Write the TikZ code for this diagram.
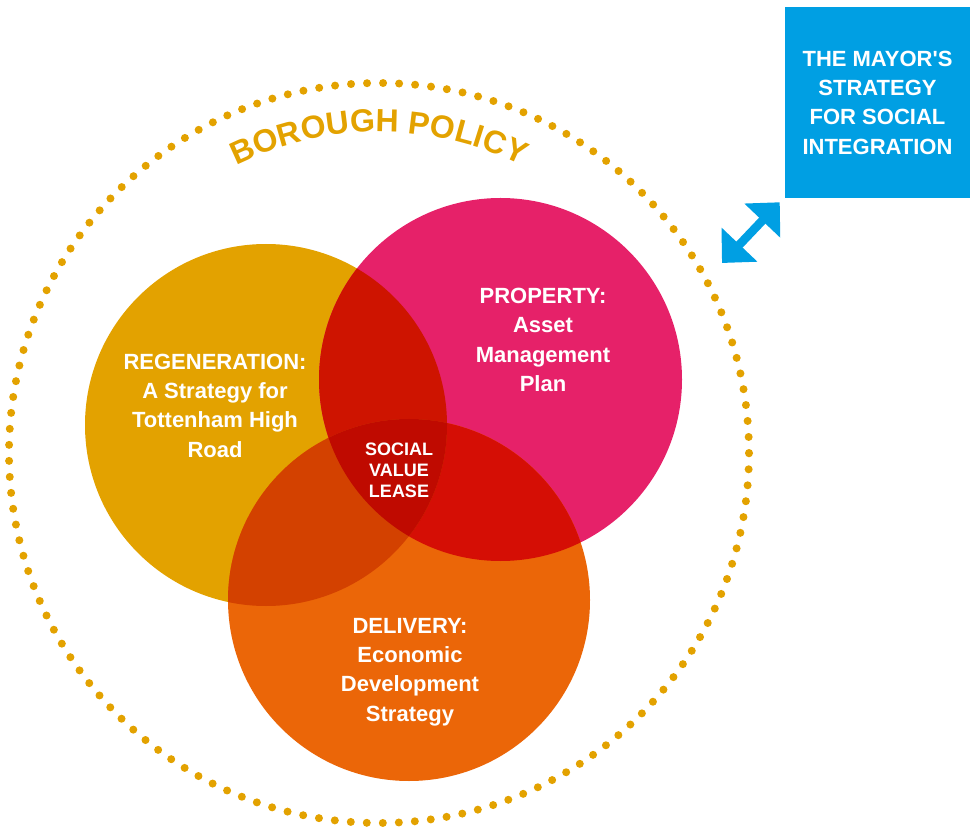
\documentclass[tikz,border=0pt]{standalone}
\usepackage{fontspec}
\setmainfont{Liberation Sans}
\usetikzlibrary{arrows.meta,decorations.text}
\definecolor{regen}{HTML}{E3A200}
\definecolor{prop}{HTML}{E62169}
\definecolor{deliv}{HTML}{EB6608}
\definecolor{regpro}{HTML}{CE1400}
\definecolor{regdel}{HTML}{D34100}
\definecolor{prodel}{HTML}{D50E05}
\definecolor{centre}{HTML}{BF0A00}
\definecolor{policy}{HTML}{E3A200}
\definecolor{mayor}{HTML}{009FE3}
\begin{document}
\begin{tikzpicture}[x=0.75pt, y=0.75pt]
    % Define styles
    \tikzset{
        venntext/.style={text=white, font=\bfseries\fontsize{16.5}{22}\selectfont, align=center, inner sep=0pt},
        core/.style={text=white, font=\bfseries\fontsize{13.5}{15.75}\selectfont, align=center, inner sep=0pt},
        mayorbox/.style={fill=mayor, text=white, font=\bfseries\fontsize{16.5}{22}\selectfont, align=center, minimum width=138.75pt, minimum height=143.25pt, inner sep=0pt},
        link/.style={{Triangle[length=19pt, width=36pt]}-{Triangle[length=19pt, width=36pt]}, line width=6.5pt, draw=mayor},
        rim/.style={draw=policy, line width=6pt, line cap=round, dash pattern=on 0pt off 12.025pt}
    }
    \useasboundingbox (0,0) rectangle (970,829);

    % Circle centres
    \coordinate (polc) at (379,376);
    \coordinate (regc) at (266,404);
    \coordinate (proc) at (500.5,449.5);
    \coordinate (delc) at (409,229);

    % Borough policy ring
    \draw[rim] (polc) circle[radius=370];
    \path[decorate, decoration={text along path, text align=center, text color=policy,
        text={|\bfseries\fontsize{24}{24}\selectfont|BOROUGH POLICY}}]
        (polc) ++(160:321) arc[start angle=160, end angle=20, radius=321];

    % The three circles
    \fill[regen] (regc) circle[radius=181];
    \fill[prop] (proc) circle[radius=181.5];
    \fill[deliv] (delc) circle[radius=181];

    % Overlaps
    \begin{scope}
        \clip (proc) circle[radius=181.5];
        \fill[prodel] (delc) circle[radius=181];
    \end{scope}
    \begin{scope}
        \clip (regc) circle[radius=181];
        \fill[regpro] (proc) circle[radius=181.5];
        \fill[regdel] (delc) circle[radius=181];
        \clip (proc) circle[radius=181.5];
        \fill[centre] (delc) circle[radius=181];
    \end{scope}

    % Labels
    \node[venntext] (regen) at (215,423.5) {REGENERATION:\\A Strategy for\\Tottenham High\\Road};
    \node[venntext] (property) at (543,489) {PROPERTY:\\Asset\\Management\\Plan};
    \node[venntext] (delivery) at (410,157) {DELIVERY:\\Economic\\Development\\Strategy};
    \node[core] (lease) at (399,359) {SOCIAL\\VALUE\\LEASE};

    % Mayor's strategy
    \node[mayorbox] (mayor) at (877.5,726.5) {THE MAYOR\textquotesingle S\\STRATEGY\\FOR SOCIAL\\INTEGRATION};
    \coordinate (ringpt) at (722,566);
    \draw[link] (ringpt) -- ([shift={(-5,-4)}]mayor.south west);
\end{tikzpicture}
\end{document}
